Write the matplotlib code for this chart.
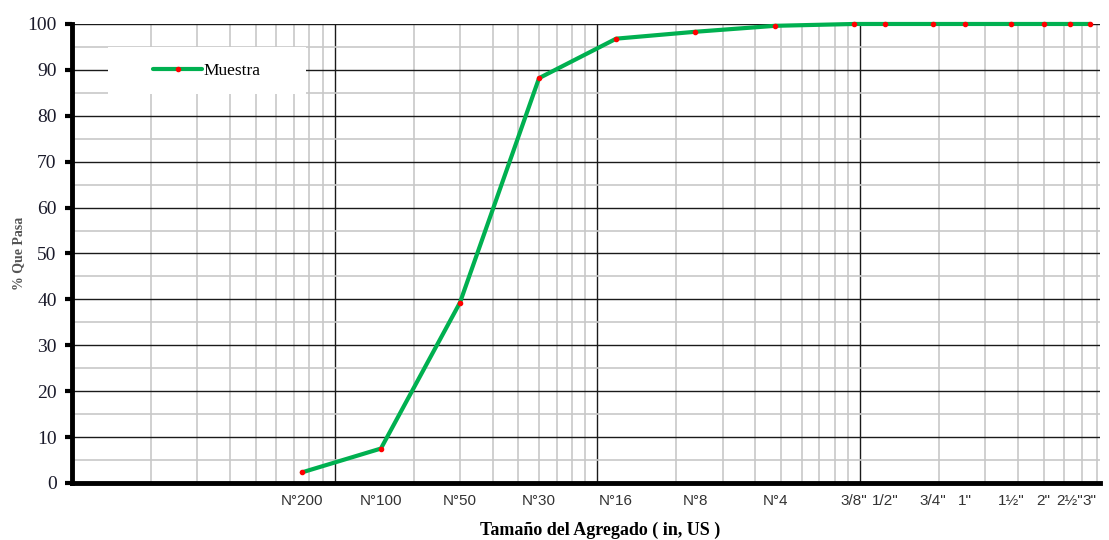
import matplotlib.pyplot as plt
from matplotlib.ticker import LogLocator, MultipleLocator, FixedLocator, NullFormatter
from matplotlib.patches import Rectangle
import numpy as np

# sieve openings (mm) and % passing
sieve_mm = [0.075, 0.15, 0.3, 0.6, 1.18, 2.36, 4.75, 9.5, 12.5, 19.0, 25.0, 37.5, 50.0, 63.0, 75.0]
sieve_lbl = ["N°200", "N°100", "N°50", "N°30", "N°16", "N°8", "N°4",
             '3/8"', '1/2"', '3/4"', '1"', '1½"', '2"', '2½"', '3"']
pasa = [2.3, 7.5, 39.3, 88.2, 96.8, 98.3, 99.6, 100, 100, 100, 100, 100, 100, 100, 100]

fig = plt.figure(figsize=(11.09, 5.40), dpi=100)
ax = fig.add_axes([0.0649, 0.1056, 0.9270, 0.8500])

ax.plot(sieve_mm, pasa, color="#00b050", lw=3, marker="o", ms=3,
        mfc="red", mec="red", label="Muestra", zorder=3, clip_on=False,
        solid_capstyle="round")

ax.set_xscale("log")
ax.set_xlim(0.01, 82)
ax.set_ylim(0, 100)
ax.set_axisbelow(True)

ax.xaxis.set_major_locator(LogLocator(base=10))
ax.xaxis.set_minor_locator(LogLocator(base=10, subs=np.arange(2, 10)))
ax.xaxis.set_major_formatter(NullFormatter())
ax.xaxis.set_minor_formatter(NullFormatter())
ax.yaxis.set_major_locator(MultipleLocator(10))
ax.yaxis.set_minor_locator(MultipleLocator(5))

ax.grid(which="major", color="#1a1a1a", lw=1.0)
ax.grid(which="minor", color="#c8c8c8", lw=1.2)

ax.tick_params(axis="x", which="both", length=0)
ax.tick_params(axis="y", which="major", length=5, width=3, direction="out", pad=6,
               labelsize=14, labelcolor="#1a1a2a")
ax.tick_params(axis="y", which="minor", length=0)
for t in ax.get_yticklabels():
    t.set_fontfamily("Liberation Serif")

for s in ["top", "right"]:
    ax.spines[s].set_visible(False)
ax.spines["left"].set_linewidth(3.5)
ax.spines["bottom"].set_linewidth(3.5)

# sieve labels on a secondary axis
sec = ax.secondary_xaxis("bottom")
sec.xaxis.set_major_locator(FixedLocator(sieve_mm))
sec.set_xticklabels(sieve_lbl)
sec.xaxis.set_minor_locator(FixedLocator([]))
sec.tick_params(axis="x", length=0, pad=8, labelsize=11, labelcolor="#333333")
sec.spines["bottom"].set_visible(False)
for t in sec.get_xticklabels():
    t.set_fontfamily("Liberation Sans")

# white legend area
ax.add_patch(Rectangle((0.035, 0.847), 0.193, 0.103, transform=ax.transAxes,
                       facecolor="white", edgecolor="none", zorder=1.5))
lgd = ax.legend(loc="center", bbox_to_anchor=(0.1315, 0.898), frameon=False,
                prop={"family": "Liberation Serif", "size": 12.5},
                handlelength=2.8, handletextpad=0.1)

ax.set_ylabel("% Que Pasa", fontfamily="Liberation Serif", fontweight="bold",
              fontsize=10, color="#555555", va="center")
ax.yaxis.set_label_coords(-0.052, 0.5)
ax.set_xlabel("Tamaño del Agregado ( in, US )", fontfamily="Liberation Serif",
              fontweight="bold", fontsize=13, va="center")
ax.xaxis.set_label_coords(0.514, -0.104)

fig.savefig("out.png", dpi=100)
